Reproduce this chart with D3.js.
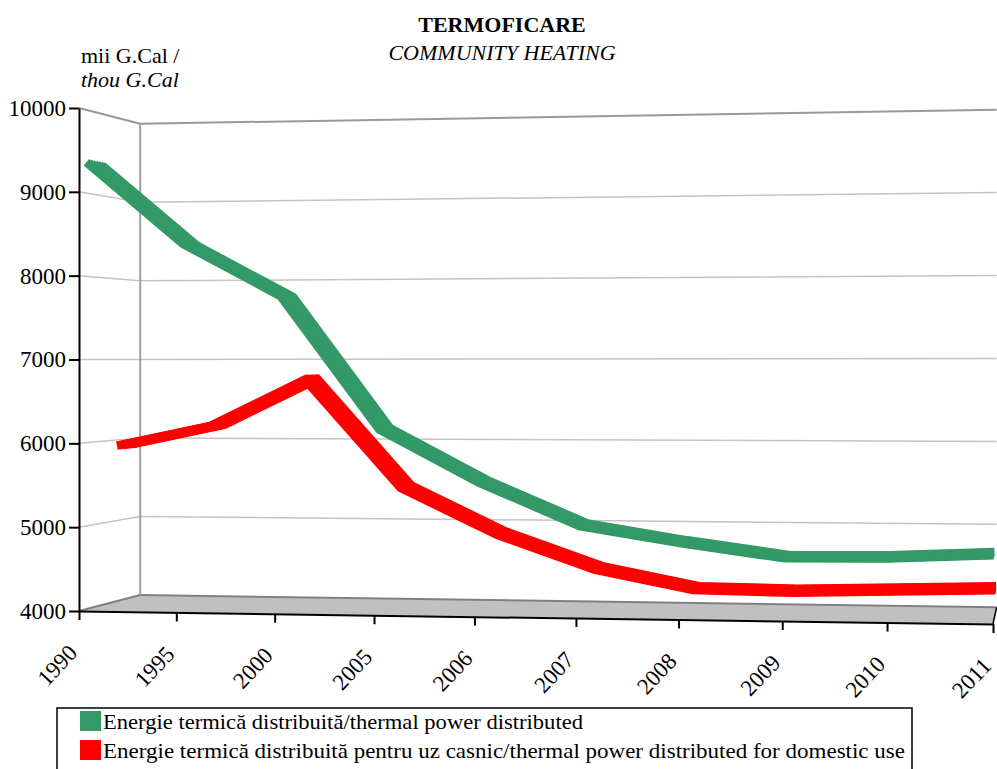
<!DOCTYPE html>
<html><head><meta charset="utf-8">
<script src="https://cdn.jsdelivr.net/npm/d3@7"></script>
<style>body{margin:0;background:#fff} svg{display:block}</style>
</head><body>
<svg id="c" width="997" height="769"></svg>
<script>
// ---------- data ----------
const years = ["1990","1995","2000","2005","2006","2007","2008","2009","2010","2011"];
const thermalDistributed = [9370, 8380, 7750, 6170, 5550, 5050, 4860, 4700, 4710, 4760];
const thermalDomestic    = [5930, 6180, 6750, 5430, 4870, 4460, 4230, 4215, 4245, 4275];
const yTicks = [4000, 5000, 6000, 7000, 8000, 9000, 10000];
const seriesNames = [
  "Energie termică distribuită/thermal power distributed",
  "Energie termică distribuită pentru uz casnic/thermal power distributed for domestic use"
];
const seriesColors = ["#339966", "#ff0000"];
const titleLines = ["TERMOFICARE", "COMMUNITY HEATING"];
const unitLines = ["mii G.Cal /", "thou G.Cal"];

// ---------- pseudo-3D projection built from d3 scales ----------
const svg = d3.select("#c");
const FONT = "Liberation Serif, Times New Roman, serif";
const cat = d3.scalePoint().domain(years).range([0, 1]);
const persp = s => s / (s + (1 - s) * 1.049);
const px = d3.scaleLinear().domain([0, 1]).range([79, 993]);
const pyBottom = d3.scaleLinear().domain([0, 1]).range([611, 624]);
const pyTop = d3.scaleLinear().domain([0, 1]).range([108, 93]);
const yv = d3.scaleLinear().domain([4000, 10000]).range([0, 1]);
const VP = [1050, 358], depthShrink = 0.063;
function proj(s, v, w) {
  const p = persp(s);
  const fx = px(p);
  const fy = pyBottom(p) + (pyTop(p) - pyBottom(p)) * yv(v);
  const k = 1 - w * depthShrink;
  return [VP[0] + k * (fx - VP[0]), VP[1] + k * (fy - VP[1])];
}

// ---------- floor ----------
const floorPts = [proj(0,4000,0), proj(0,4000,1), proj(1,4000,1), proj(1,4000,0)];
svg.append("polygon").attr("points", floorPts.map(p => p.join(",")).join(" "))
  .attr("fill", "#c0c0c0");
svg.append("line").attr("x1", floorPts[1][0]).attr("y1", floorPts[1][1])
  .attr("x2", floorPts[2][0]).attr("y2", floorPts[2][1])
  .attr("stroke", "#808080").attr("stroke-width", 2);
svg.append("line").attr("x1", floorPts[0][0]).attr("y1", floorPts[0][1])
  .attr("x2", floorPts[1][0]).attr("y2", floorPts[1][1])
  .attr("stroke", "#808080").attr("stroke-width", 2);
svg.append("line").attr("x1", floorPts[3][0]).attr("y1", floorPts[3][1])
  .attr("x2", floorPts[2][0]).attr("y2", floorPts[2][1])
  .attr("stroke", "#000").attr("stroke-width", 1.5);

// ---------- walls ----------
const gridVals = yTicks.filter(v => v > 4000);
const grid = svg.append("g");
grid.selectAll("line.side").data(gridVals).join("line").attr("class","side")
  .attr("x1", v => proj(0,v,0)[0]).attr("y1", v => proj(0,v,0)[1])
  .attr("x2", v => proj(0,v,1)[0]).attr("y2", v => proj(0,v,1)[1])
  .attr("stroke", v => v === 10000 ? "#999" : "#c4c4c4")
  .attr("stroke-width", v => v === 10000 ? 2 : 1.5);
grid.selectAll("line.back").data(gridVals).join("line").attr("class","back")
  .attr("x1", v => proj(0,v,1)[0]).attr("y1", v => proj(0,v,1)[1])
  .attr("x2", v => proj(1,v,1)[0]).attr("y2", v => proj(1,v,1)[1])
  .attr("stroke", v => v === 10000 ? "#999" : "#c4c4c4")
  .attr("stroke-width", v => v === 10000 ? 2 : 1.5);
svg.append("line")
  .attr("x1", proj(0,4000,1)[0]).attr("y1", proj(0,4000,1)[1])
  .attr("x2", proj(0,10000,1)[0]).attr("y2", proj(0,10000,1)[1])
  .attr("stroke", "#a0a0a0").attr("stroke-width", 2);

// ---------- series (ribbons swept through depth) ----------
const series = [
  {values: thermalDomestic, color: seriesColors[1], w0: 0.62, w1: 0.88},
  {values: thermalDistributed, color: seriesColors[0], w0: 0.12, w1: 0.38}
];
series.forEach(sr => {
  const g = svg.append("g");
  const ws = d3.range(0, 7).map(i => sr.w0 + (sr.w1 - sr.w0) * i / 6);
  ws.forEach(w => {
    const line = d3.line()
      .x((d, i) => proj(cat(years[i]), d, w)[0])
      .y((d, i) => proj(cat(years[i]), d, w)[1]);
    g.append("path").attr("d", line(sr.values))
      .attr("fill", "none").attr("stroke", sr.color)
      .attr("stroke-width", 8.5).attr("stroke-linejoin", "miter")
      .attr("stroke-miterlimit", 3).attr("stroke-linecap", "butt");
  });
});

// ---------- axes ----------
const yFront = d3.scaleLinear().domain([4000, 10000]).range([611, 108]);
const yAxis = svg.append("g").attr("transform", "translate(79,0)")
  .call(d3.axisLeft(yFront).tickValues(yTicks).tickSize(10).tickSizeOuter(0)
    .tickPadding(3).tickFormat(d3.format("d")));
yAxis.attr("font-family", FONT).attr("font-size", 23);
yAxis.select(".domain").attr("stroke", "#000").attr("stroke-width", 2);
yAxis.selectAll(".tick line").attr("stroke", "#000").attr("stroke-width", 2);
yAxis.selectAll(".tick text").style("font-family", FONT).style("font-size", "23px")
  .attr("fill", "#000");

const x0 = px(0);
const xs = d3.scaleOrdinal().domain(years).range(years.map(y => px(persp(cat(y))) - x0));
const skew = Math.atan((pyBottom(1) - pyBottom(0)) / (px(1) - px(0))) * 180 / Math.PI;
const xAxis = svg.append("g").attr("transform", `translate(${x0},${pyBottom(0)}) skewY(${skew})`)
  .call(d3.axisBottom(xs).tickSize(9).tickSizeOuter(0));
xAxis.attr("font-family", FONT).attr("font-size", 23);
xAxis.select(".domain").attr("stroke", "#000").attr("stroke-width", 2);
xAxis.selectAll(".tick line").attr("stroke", "#000").attr("stroke-width", 2);
xAxis.selectAll(".tick text").style("font-family", FONT).style("font-size", "23px")
  .attr("fill", "#000").attr("text-anchor", "end").attr("dy", null).attr("y", null)
  .attr("transform", "translate(-1,43) rotate(-47)");

// ---------- titles ----------
const T = (x, y, txt) => svg.append("text").attr("x", x).attr("y", y)
  .style("font-family", FONT).style("font-size", "22px").attr("fill", "#000").text(txt);
T(502, 32, titleLines[0]).attr("text-anchor", "middle").attr("font-weight", "bold");
T(502, 60, titleLines[1]).attr("text-anchor", "middle").attr("font-style", "italic");
T(81, 63, unitLines[0]);
T(81, 87, unitLines[1]).attr("font-style", "italic");

// ---------- legend ----------
svg.append("rect").attr("x", 57).attr("y", 708).attr("width", 855).attr("height", 80)
  .attr("fill", "none").attr("stroke", "#000").attr("stroke-width", 1.5);
const legendWidths = [480, 802];
const leg = svg.selectAll("g.leg").data(seriesNames).join("g").attr("class", "leg")
  .attr("transform", (d, i) => `translate(80,${711 + i * 29})`);
leg.append("rect").attr("width", 21).attr("height", 20)
  .attr("fill", (d, i) => seriesColors[i]);
leg.append("text").attr("x", 23).attr("y", 18)
  .style("font-family", FONT).style("font-size", "22px").attr("fill", "#000")
  .attr("textLength", (d, i) => legendWidths[i]).attr("lengthAdjust", "spacingAndGlyphs")
  .text(d => d);
</script>
</body></html>
